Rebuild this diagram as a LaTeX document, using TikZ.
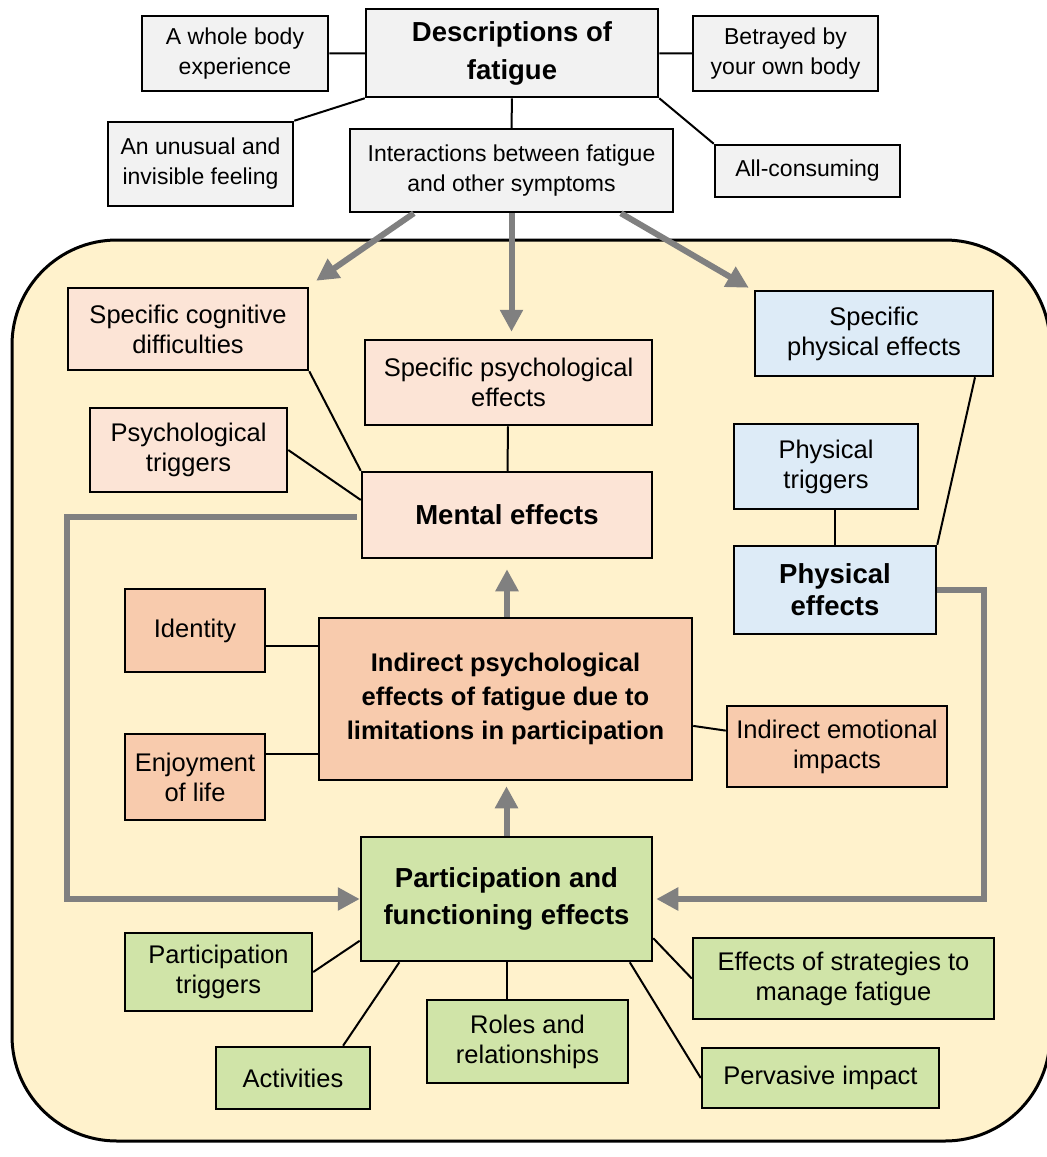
\documentclass[tikz,border=0pt]{standalone}
\usepackage{fontspec}
\setmainfont{Liberation Sans}
\usepackage{xcolor}
\usepackage{tikz}
\usetikzlibrary{positioning,arrows.meta,calc}

\definecolor{descgray}{HTML}{F2F2F2}
\definecolor{areacream}{HTML}{FFF2CC}
\definecolor{mentalpeach}{HTML}{FCE4D6}
\definecolor{indirectpeach}{HTML}{F8CBAD}
\definecolor{physblue}{HTML}{DDEBF7}
\definecolor{partgreen}{HTML}{D0E4A8}
\definecolor{flowgray}{HTML}{808080}

\begin{document}
\begin{tikzpicture}[
  x=1pt, y=-1pt, >={Triangle[length=22pt,width=22pt]},
  box/.style={draw, line width=2.5pt, inner sep=0pt, align=center, font=\fontsize{25.5}{30}\selectfont},
  topbox/.style={box, fill=descgray, font=\fontsize{23}{30}\selectfont},
  mentalbox/.style={box, fill=mentalpeach},
  indirectbox/.style={box, fill=indirectpeach},
  physbox/.style={box, fill=physblue},
  partbox/.style={box, fill=partgreen},
  main/.style={font=\bfseries\fontsize{27.5}{36}\selectfont},
  link/.style={line width=2pt},
  flow/.style={->, draw=flowgray, line width=6pt},
]
  \useasboundingbox (0,0) rectangle (1047,1157);

  % descriptions of fatigue
  \node (desc)[topbox, main, minimum width=292pt, minimum height=88pt, font=\bfseries\fontsize{27.5}{38}\selectfont] at (512,53) {Descriptions of\\fatigue};
  \node (desc-whole)[topbox, minimum width=186pt, minimum height=75pt] at (235,53.5) {A whole body\\experience};
  \node (desc-betrayed)[topbox, minimum width=185pt, minimum height=75pt] at (785.5,53.5) {Betrayed by\\your own body};
  \node (desc-unusual)[topbox, minimum width=185pt, minimum height=84pt] at (200.5,164) {An unusual and\\invisible feeling};
  \node (interact)[topbox, minimum width=323pt, minimum height=83pt] at (511.5,170.5) {Interactions between fatigue\\and other symptoms};
  \node (desc-allcons)[topbox, minimum width=185pt, minimum height=52pt] at (807.5,171) {All-consuming};
  \draw[link] (desc-whole) -- (desc);
  \draw[link] (desc) -- (desc-betrayed);
  \draw[link] (desc.south west) -- (desc-unusual.north east);
  \draw[link] (desc.south east) -- (desc-allcons.north west);
  \draw[link] (desc) -- (interact);

  % effects
  \draw[line width=3pt, fill=areacream, rounded corners=105pt] (12,240) rectangle (1050,1141);

  \node (cognitive)[mentalbox, minimum width=240pt, minimum height=82pt] at (188,329) {Specific cognitive\\difficulties};
  \node (spec-psych)[mentalbox, minimum width=287pt, minimum height=85pt] at (508.5,382.5) {Specific psychological\\effects};
  \node (psych-trig)[mentalbox, minimum width=197pt, minimum height=84pt] at (188.5,450) {Psychological\\triggers};
  \node (mental)[mentalbox, main, minimum width=290pt, minimum height=86pt] at (507,515) {Mental effects};

  \node (spec-phys)[physbox, minimum width=238pt, minimum height=85pt] at (874,333.5) {Specific\\physical effects};
  \node (phys-trig)[physbox, minimum width=184pt, minimum height=85pt] at (826,466.5) {Physical\\triggers};
  \node (phys-eff)[physbox, main, minimum width=202pt, minimum height=88pt, font=\bfseries\fontsize{27.5}{32}\selectfont] at (835,590) {Physical\\effects};

  \node (identity)[indirectbox, minimum width=140pt, minimum height=83pt] at (195,630.5) {Identity};
  \node (indirect)[indirectbox, minimum width=373pt, minimum height=162pt, font=\bfseries\fontsize{25.5}{34}\selectfont] at (505.5,699) {Indirect psychological\\effects of fatigue due to\\limitations in participation};
  \node (enjoy)[indirectbox, minimum width=140pt, minimum height=86pt] at (195,777) {Enjoyment\\of life};
  \node (emotional)[indirectbox, minimum width=220pt, minimum height=81pt] at (837,746.5) {Indirect emotional\\impacts};

  \node (part-func)[partbox, main, minimum width=291pt, minimum height=124pt, font=\bfseries\fontsize{27.5}{37}\selectfont] at (506.5,899) {Participation and\\functioning effects};
  \node (part-trig)[partbox, minimum width=187pt, minimum height=78pt] at (218.5,972) {Participation\\triggers};
  \node (strategies)[partbox, minimum width=301pt, minimum height=81pt] at (843.5,978.5) {Effects of strategies to\\manage fatigue};
  \node (roles)[partbox, minimum width=201pt, minimum height=83pt] at (527.5,1041.5) {Roles and\\relationships};
  \node (activities)[partbox, minimum width=154pt, minimum height=62pt] at (293,1078) {Activities};
  \node (pervasive)[partbox, minimum width=237pt, minimum height=60pt] at (820.5,1078) {Pervasive impact};

  \draw[link] (cognitive.south east) -- (mental.north west);
  \draw[link] (psych-trig.east) -- ($(mental.north west)!0.33!(mental.south west)$);
  \draw[link] (spec-psych) -- (mental);
  \draw[link] ($(spec-phys.south west)!0.92!(spec-phys.south east)$) -- (phys-eff.north east);
  \draw[link] (phys-eff.north) -- (phys-eff.north |- phys-trig.south);
  \draw[link] ($(identity.north east)!0.68!(identity.south east)$) coordinate (id-end) -- (id-end -| indirect.west);
  \draw[link] ($(enjoy.north east)!0.24!(enjoy.south east)$) coordinate (enjoy-end) -- (enjoy-end -| indirect.west);
  \draw[link] (indirect) -- (emotional);
  \draw[link] (part-trig.east) -- ($(part-func.north west)!0.83!(part-func.south west)$);
  \draw[link] ($(activities.north west)!0.82!(activities.north east)$) -- ($(part-func.south west)!0.135!(part-func.south east)$);
  \draw[link] (part-func.south) -- (part-func.south |- roles.north);
  \draw[link] (strategies.west) -- ($(part-func.north east)!0.81!(part-func.south east)$);
  \draw[link] (pervasive.west) -- ($(part-func.south west)!0.92!(part-func.south east)$);

  % grey flows
  \draw[flow] ($(interact.south west)!0.2!(interact.south east)$) -- ($(cognitive.north east)+(7,-6)$);
  \draw[flow] (interact.south) -- ($(interact.south |- spec-psych.north)+(0,-7)$);
  \draw[flow] ($(interact.south west)!0.836!(interact.south east)$) -- ($(spec-phys.north west)+(-5,-2)$);
  \draw[flow, shorten >=10pt] (mental.south |- indirect.north) -- (mental.south);
  \draw[flow, shorten >=5pt] (part-func.north) -- (part-func.north |- indirect.south);
  \draw[flow] ($(mental.west)+(-4,2)$) -- ++(-290,0) |- (part-func.west);
  \draw[flow] (phys-eff.east) -- ++(47,0) |- ($(part-func.east)+(3,0)$);
\end{tikzpicture}
\end{document}
